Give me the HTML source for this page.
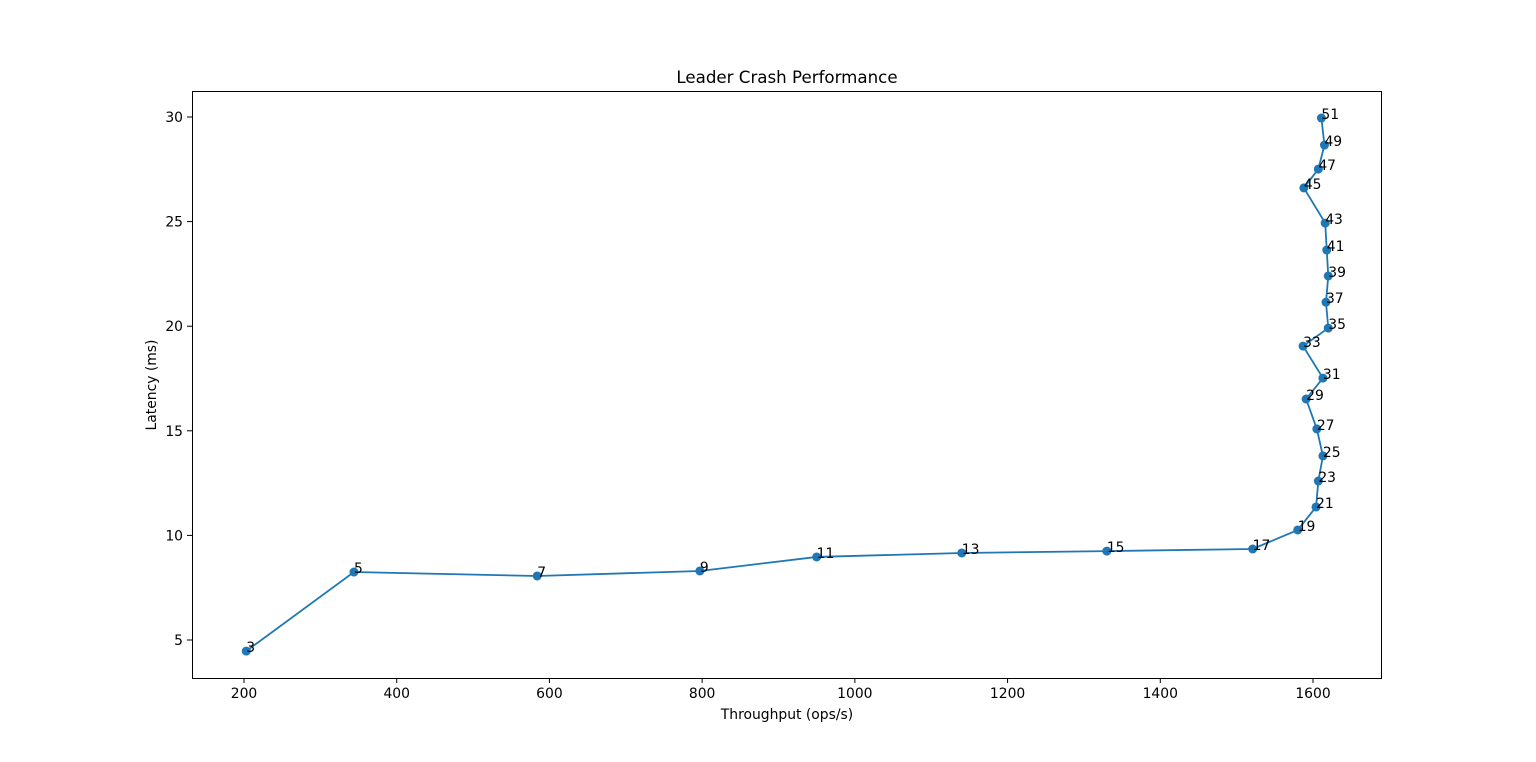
<!DOCTYPE html>
<html><head><meta charset="utf-8"><style>
html,body{margin:0;padding:0;background:#fff;}
svg{display:block;font-family:"DejaVu Sans","Liberation Sans",sans-serif;}
</style></head><body>
<svg id="chart" width="1536" height="762" viewBox="0 0 1536 762">
<rect x="0" y="0" width="1536" height="762" fill="#fff"/>
<text x="787" y="83" font-size="16.67" text-anchor="middle" fill="#000">Leader Crash Performance</text>
<g id="xticks"></g>
<g id="yticks"></g>
<text x="787" y="719" font-size="13.9" text-anchor="middle">Throughput (ops/s)</text>
<text x="156" y="385" font-size="13.9" text-anchor="middle" transform="rotate(-90 156 385)">Latency (ms)</text>
<g id="series"></g>
<rect x="192.5" y="91.5" width="1189" height="587" fill="none" stroke="#000" stroke-width="1"/>
</svg>
<script>
const labels = [3,5,7,9,11,13,15,17,19,21,23,25,27,29,31,33,35,37,39,41,43,45,47,49,51];
const throughput = [203,344,584,797,950,1140,1330,1521,1580,1604,1607,1613,1605,1591,1613,1587,1620,1617,1620,1618,1616,1588,1607,1615,1611];
const latency = [4.47,8.25,8.06,8.30,8.97,9.16,9.25,9.35,10.26,11.36,12.60,13.80,15.09,16.52,17.52,19.05,19.91,21.15,22.40,23.64,24.93,26.61,27.51,28.66,29.95];
const xTicks = [200,400,600,800,1000,1200,1400,1600];
const yTicks = [5,10,15,20,25,30];

const NS = "http://www.w3.org/2000/svg";
function X(v){ return 244 + (v-200)*(1313-244)/1400; }
function Y(v){ return 640 - (v-5)*(640-117)/25; }
function mk(tag, attrs, parent){ const e=document.createElementNS(NS,tag); for(const k in attrs) e.setAttribute(k,attrs[k]); parent.appendChild(e); return e; }

const xg=document.getElementById('xticks');
xTicks.forEach(t=>{
  const x=X(t);
  const l=mk('line',{x1:x,x2:x,y1:678,y2:683,stroke:'#000'},xg);
  
  
  const tx=mk('text',{x:x,y:698,'font-size':13.9,'text-anchor':'middle'},xg);
  tx.textContent=t;
  
  
});
const yg=document.getElementById('yticks');
yTicks.forEach(t=>{
  const y=Y(t);
  const l=mk('line',{x1:187,x2:192,y1:y,y2:y,stroke:'#000'},yg);
  
  
  const tx=mk('text',{x:183,y:y+5,'font-size':13.9,'text-anchor':'end'},yg);
  tx.textContent=t;
  
  
});
const sg=document.getElementById('series');
const pts=throughput.map((v,i)=>X(v)+','+Y(latency[i])).join(' ');
const pl=mk('polyline',{points:pts,fill:'none',stroke:'#1f77b4','stroke-width':1.8},sg);


throughput.forEach((v,i)=>{
  const c=mk('circle',{cx:X(v),cy:Y(latency[i]),r:4.5,fill:'#1f77b4'},sg);
  
  
  const t=mk('text',{x:X(v),y:Y(latency[i])+1,'font-size':13.9,fill:'#000'},sg);
  t.textContent=labels[i];
  
  
});
</script>
</body></html>
